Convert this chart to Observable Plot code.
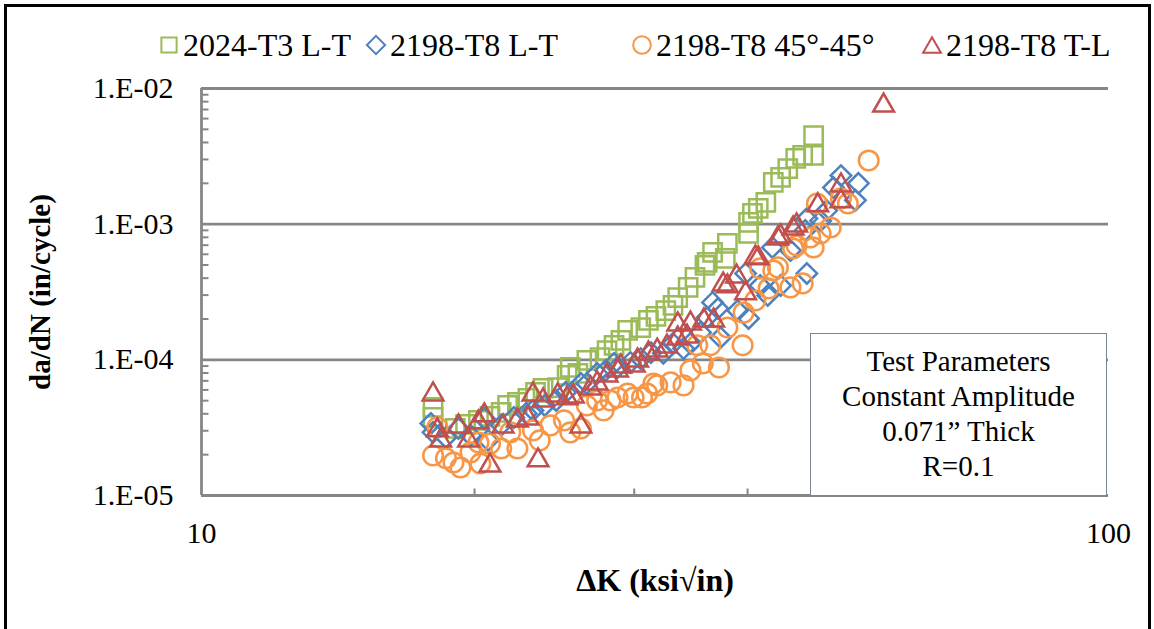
<!DOCTYPE html>
<html><head><meta charset="utf-8">
<script src="https://cdn.jsdelivr.net/npm/d3@7"></script>
<script src="https://cdn.jsdelivr.net/npm/@observablehq/plot@0.6"></script>
<style>
html,body{margin:0;padding:0;background:#fff;}
#wrap{position:relative;width:1154px;height:629px;overflow:hidden;background:#fff;font-family:"Liberation Serif","Times New Roman",serif;color:#000;}
#border{position:absolute;left:4px;top:4px;width:1147px;height:700px;border:3px solid #000;box-sizing:border-box;pointer-events:none;}
#chart{position:absolute;left:0;top:0;}
.leg{position:absolute;top:26px;height:38px;display:flex;align-items:center;font-size:32px;white-space:nowrap;}
.leg svg{display:block;margin-right:3px;}
#box{position:absolute;left:810px;top:333px;width:297px;height:163px;box-sizing:border-box;border:1.5px solid #7a8596;background:#fff;text-align:center;font-size:29px;line-height:35px;padding-top:10px;}
</style></head>
<body>
<div id="wrap"><div id="chart"></div><div id="legend"></div><div id="box"></div><div id="border"></div></div>
<script>
// ---- data (ΔK in ksi√in, da/dN in in/cycle) ----
const seriesNames = ["2024-T3 L-T", "2198-T8 L-T", "2198-T8 45°-45°", "2198-T8 T-L"];
const seriesColors = ["#9BBB59", "#4F81BD", "#F79646", "#C0504D"];
const seriesSymbols = ["square", "diamond2", "circle", "triangle"];

const k2024LT = [18.0,18.0,19.05,19.55,20.2,20.8,21.4,21.75,22.3,22.9,23.35,23.8,24.7,25.3,25.5,26.0,26.6,27.5,28.0,28.5,29.0,29.5,30.5,31.1,31.7,32.5,33.1,33.5,34.4,35.0,35.9,36.1,36.6,37.8,38.0,40.1,40.1,40.5,41.1,41.9,42.7,43.5,44.3,45.2,46.0,47.3,47.3];
const r2024LT = [4.46e-5,3.76e-5,3.12e-5,3.34e-5,3.58e-5,3.83e-5,4.10e-5,4.61e-5,4.85e-5,5.20e-5,5.75e-5,6.15e-5,6.25e-5,7.67e-5,8.79e-5,7.94e-5,9.9e-5,1.04e-4,1.17e-4,1.28e-4,1.39e-4,1.65e-4,1.73e-4,1.95e-4,2.09e-4,2.31e-4,2.52e-4,2.88e-4,3.42e-4,4.05e-4,4.96e-4,5.22e-4,6.19e-4,5.59e-4,7.21e-4,8.54e-4,1.03e-3,1.20e-3,1.31e-3,1.45e-3,2.03e-3,2.21e-3,2.57e-3,3.05e-3,3.21e-3,3.21e-3,4.50e-3];

const k2198LT = [17.9,18.0,18.6,19.2,19.8,20.5,20.7,21.4,22.1,22.8,23.2,23.9,24.6,25.2,26.2,26.6,27.3,27.9,28.5,28.75,29.7,30.5,31.3,32.3,33.1,34.0,34.6,35.5,36.1,36.6,37.1,37.35,39.0,39.8,40.1,41.3,42.1,42.6,43.5,44.6,46.3,46.5,46.5,48.15,48.9,49.75,50.7,52.6,53.0];
const r2198LT = [3.40e-5,2.92e-5,2.68e-5,3.12e-5,2.77e-5,3.70e-5,2.55e-5,3.29e-5,3.76e-5,4.03e-5,4.24e-5,4.61e-5,5.02e-5,5.75e-5,6.70e-5,6.70e-5,7.94e-5,8.36e-5,9.41e-5,8.79e-5,9.57e-5,1.02e-4,1.13e-4,1.12e-4,1.32e-4,1.21e-4,1.32e-4,1.59e-4,2.05e-4,2.65e-4,2.39e-4,1.46e-4,2.31e-4,4.33e-4,2.02e-4,3.53e-4,2.98e-4,6.73e-4,3.53e-4,6.40e-4,8.99e-4,4.33e-4,1.10e-3,1.06e-3,1.26e-3,1.86e-3,2.28e-3,1.50e-3,2.00e-3];

const k2198_45 = [18.2,18.0,18.6,18.96,19.3,19.8,20.2,20.3,20.8,21.4,21.9,22.3,23.2,23.6,24.25,25.1,25.5,26.2,26.6,27.3,27.75,28.25,28.75,29.5,29.95,30.6,31.0,31.5,31.8,32.9,34.0,34.6,35.2,35.7,36.4,37.2,38.0,39.5,39.6,40.8,41.3,42.2,42.7,43.2,44.6,44.9,45.3,46.0,46.9,47.3,47.7,48.15,49.4,50.7,51.6,54.4];
const r2198_45 = [3.18e-5,1.97e-5,1.88e-5,1.75e-5,1.61e-5,2.08e-5,2.46e-5,1.72e-5,2.41e-5,2.22e-5,2.92e-5,2.22e-5,3.02e-5,2.55e-5,3.29e-5,3.58e-5,2.92e-5,3.12e-5,4.61e-5,5.02e-5,4.24e-5,5.02e-5,5.28e-5,5.65e-5,5.28e-5,5.28e-5,5.65e-5,6.70e-5,6.48e-5,6.82e-5,6.48e-5,8.36e-5,1.28e-4,9.41e-5,1.28e-4,8.79e-5,1.73e-4,1.28e-4,2.23e-4,2.74e-4,4.72e-4,3.36e-4,4.56e-4,4.80e-4,3.42e-4,6.62e-4,6.97e-4,3.66e-4,7.98e-4,6.73e-4,1.42e-3,8.54e-4,9.46e-4,1.55e-3,1.42e-3,2.95e-3];

const k2198TL = [18.0,18.2,18.35,19.2,19.7,20.2,20.5,20.8,21.5,22.3,22.9,23.2,23.5,23.8,24.7,25.3,25.7,26.2,26.85,27.3,28.0,28.75,29.0,30.0,30.25,31.1,31.8,32.6,33.5,33.5,34.3,34.6,35.8,36.7,37.6,38.0,38.9,39.8,40.8,41.1,43.2,43.5,44.9,45.3,47.8,50.7,50.7,56.5];
const r2198TL = [5.85e-5,3.18e-5,2.68e-5,3.40e-5,2.68e-5,3.64e-5,4.10e-5,1.75e-5,3.40e-5,3.76e-5,3.89e-5,5.85e-5,1.91e-5,5.28e-5,5.75e-5,5.47e-5,5.65e-5,3.40e-5,6.48e-5,7.05e-5,8.07e-5,8.79e-5,9.41e-5,9.57e-5,1.04e-4,1.17e-4,1.23e-4,1.32e-4,1.92e-4,1.51e-4,1.56e-4,1.95e-4,2.05e-4,2.05e-4,3.78e-4,3.66e-4,4.33e-4,3.25e-4,5.98e-4,5.90e-4,8.26e-4,8.54e-4,9.78e-4,1.03e-3,1.45e-3,2.03e-3,1.55e-3,7.88e-3];

const yTicks = [1e-5, 1e-4, 1e-3, 1e-2];
const yTickLabels = ["1.E-05", "1.E-04", "1.E-03", "1.E-02"];
const xTicks = [10, 100];
const xTickLabels = ["10", "100"];
const xMinorTicks = [20, 30, 40, 50, 60, 70, 80, 90];
const yMinorMultipliers = [2, 3, 4, 5, 6, 7, 8, 9];
const xTitle = "ΔK (ksi√in)";
const yTitle = "da/dN (in/cycle)";
const boxLines = ["Test Parameters", "Constant Amplitude", "0.071” Thick", "R=0.1"];

// ---- build ----
const kArrays = [k2024LT, k2198LT, k2198_45, k2198TL];
const rArrays = [r2024LT, r2198LT, r2198_45, r2198TL];
const rows = kArrays.map((ks, s) => ks.map((k, i) => ({k, r: rArrays[s][i]})));
const yMinorTicks = yTicks.slice(0, 3).flatMap(d => yMinorMultipliers.map(m => m * d));

const gray = "#868686";
const tickRight = {draw(c) { c.moveTo(0, 0); c.lineTo(7, 0); }};
const tickUp = {draw(c) { c.moveTo(0, 0); c.lineTo(0, -7); }};
const dotR = [10.3, 9.2, 9.8, 7.7];
const dotDy = [0, 0, 0, 3];

const chart = Plot.plot({
  width: 1154, height: 629,
  marginLeft: 201, marginRight: 46, marginTop: 88, marginBottom: 134,
  style: {fontFamily: '"Liberation Serif", "Times New Roman", serif', fontSize: "30px", color: "#000", background: "transparent", overflow: "visible"},
  x: {type: "log", domain: [10, 100]},
  y: {type: "log", domain: [1e-5, 1e-2]},
  marks: [
    Plot.ruleY(yTicks, {stroke: gray, strokeWidth: 2.8}),
    Plot.ruleX([10], {stroke: gray, strokeWidth: 2.8}),
    Plot.dot(yMinorTicks, {x: 10, y: d => d, symbol: tickRight, stroke: gray, strokeWidth: 2, fill: "none"}),
    Plot.dot(xMinorTicks, {x: d => d, y: 1e-5, symbol: tickUp, stroke: gray, strokeWidth: 2, fill: "none"}),
    Plot.axisX(xTicks, {tickSize: 0, tickPadding: 26, tickFormat: d => xTickLabels[xTicks.indexOf(d)], label: null, fontSize: 30}),
    Plot.axisY(yTicks, {tickSize: 0, tickPadding: 28, tickFormat: d => yTickLabels[yTicks.indexOf(d)], label: null, fontSize: 30}),
    ...rows.map((data, s) => Plot.dot(data, {
      x: "k", y: "r", symbol: seriesSymbols[s], r: dotR[s], dy: dotDy[s],
      fill: "none", stroke: seriesColors[s], strokeWidth: 2.5
    })),
    Plot.text([xTitle], {text: d => d, frameAnchor: "bottom", dy: 85, lineAnchor: "middle", textAnchor: "middle", fontWeight: "bold", fontSize: 32}),
    Plot.text([yTitle], {text: d => d, frameAnchor: "left", dx: -161, rotate: -90, lineAnchor: "middle", textAnchor: "middle", fontWeight: "bold", fontSize: 29})
  ]
});
document.getElementById("chart").appendChild(chart);

// legend
const legendX = [169, 376, 642, 932];
const legendR = [8.6, 8.2, 8.8, 6.6];
const legendDy = [0, 0, 0, 2.5];
const leg = document.getElementById("legend");
seriesNames.forEach((name, s) => {
  const item = document.createElement("div");
  item.className = "leg";
  item.style.left = (legendX[s] - 11) + "px";
  const sym = ({square: d3.symbolSquare, diamond2: d3.symbolDiamond2, circle: d3.symbolCircle, triangle: d3.symbolTriangle})[seriesSymbols[s]];
  const path = d3.symbol(sym, Math.PI * legendR[s] * legendR[s])();
  item.innerHTML = `<svg width="22" height="24" viewBox="-11 -12 22 24"><path d="${path}" transform="translate(0,${legendDy[s]})" fill="none" stroke="${seriesColors[s]}" stroke-width="2"/></svg><span>${name}</span>`;
  leg.appendChild(item);
});

// text box
document.getElementById("box").innerHTML = boxLines.map(t => `<div>${t}</div>`).join("");
</script>
</body></html>
